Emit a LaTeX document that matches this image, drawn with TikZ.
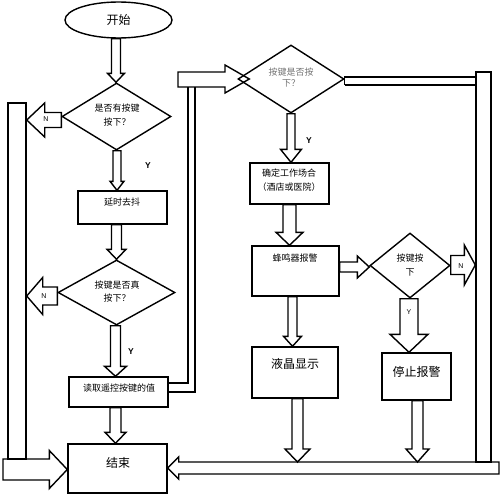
\documentclass[tikz,border=0pt]{standalone}
\usepackage{fontspec}
\setmainfont{Noto Sans CJK SC}
\newfontfamily\latf{Liberation Sans}
\usetikzlibrary{shapes.geometric,calc}
\tikzset{
 ln/.style={draw=black,line width=1.4pt,line join=miter},
 blk/.style={ln},
 boxn/.style={ln,rectangle,inner sep=0pt},
 dia/.style={ln,diamond,inner sep=0pt},
 txt/.style={inner sep=0pt,align=center,font=\fontsize{9}{14}\selectfont},
 big/.style={inner sep=0pt,font=\fontsize{12}{14}\selectfont},
 lab/.style={inner sep=0pt,font=\latf\bfseries\fontsize{8.5}{9}\selectfont},
 nlab/.style={inner sep=0pt,font=\latf\fontsize{7}{8}\selectfont},
}
% vertical block arrow: x, from, to, shaft half, head half, head length
\newcommand{\vblk}[6]{\draw[blk] ($(#1,0 |- #2)+(-#4,0)$) -- ($(#1,0 |- #3)+(-#4,-#6)$) -- ($(#1,0 |- #3)+(-#5,-#6)$) -- (#1,0 |- #3) -- ($(#1,0 |- #3)+(#5,-#6)$) -- ($(#1,0 |- #3)+(#4,-#6)$) -- ($(#1,0 |- #2)+(#4,0)$) -- cycle;}
% horizontal block arrow: y, from, to, shaft half, head half, head length (positive = pointing right)
\newcommand{\hblk}[6]{\draw[blk] ($(#2 |- 0,#1)+(0,-#4)$) -- ($(#3 |- 0,#1)+({-(#6)},-#4)$) -- ($(#3 |- 0,#1)+({-(#6)},-#5)$) -- (#3 |- 0,#1) -- ($(#3 |- 0,#1)+({-(#6)},#5)$) -- ($(#3 |- 0,#1)+({-(#6)},#4)$) -- ($(#2 |- 0,#1)+(0,#4)$) -- cycle;}
\begin{document}
\begin{tikzpicture}[x=1pt,y=-1pt]
\useasboundingbox (0,0) rectangle (500,495);
% nodes
\node[ln,ellipse,minimum width=107pt,minimum height=36pt,inner sep=0pt,font=\fontsize{12}{14}\selectfont] (start) at (118.5,20) {开始};
\node[dia,minimum width=109pt,minimum height=67pt] (d1) at (116.5,116.5) {};
\node[boxn,minimum width=89pt,minimum height=33pt] (b1) at (122.5,207.5) {};
\node[dia,minimum width=117pt,minimum height=65pt] (d2) at (116.5,292.5) {};
\node[boxn,minimum width=99pt,minimum height=30pt] (b2) at (118.5,392) {};
\node[boxn,minimum width=99pt,minimum height=49pt] (e) at (117.5,468.5) {};
\node[dia,minimum width=106pt,minimum height=68pt] (d3) at (291,79) {};
\node[boxn,minimum width=79pt,minimum height=41pt] (b3) at (289.5,183.5) {};
\node[boxn,minimum width=87pt,minimum height=50pt] (b4) at (295.5,271) {};
\node[dia,minimum width=80pt,minimum height=65pt] (d4) at (410,265.5) {};
\node[boxn,minimum width=86pt,minimum height=51pt] (b5) at (295,372.5) {};
\node[boxn,minimum width=69pt,minimum height=47pt] (b6) at (416.5,376.5) {};
\node[boxn,minimum width=18pt,minimum height=356pt] (lbar) at (17,281) {};
\node[boxn,minimum width=15pt,minimum height=390pt] (rbar) at (483.5,267) {};
\coordinate (bb) at (300,462);
\coordinate (rend) at (499,468);
\coordinate (lend) at (3,469.5);
% texts
\node[txt] (t1) at (117,115) {是否有按键\\按下？};
\node[txt] (t2) at (122,202) {延时去抖};
\node[txt,font=\fontsize{9}{13}\selectfont] (t3) at (117,291.5) {按键是否真\\按下？};
\node[txt] (t4) at (119,388) {读取遥控按键的值};
\node[big] (t5) at (118,463) {结束};
\node[txt,text=black!55,font=\fontsize{9}{11.6}\selectfont] (t6) at (291,77.5) {按键是否按\\下？};
\node[txt] (t7) at (289,180.5) {确定工作场合\\（酒店或医院）};
\node[txt] (t8) at (295,258) {蜂鸣器报警};
\node[txt] (t9) at (410,265) {按键按\\下};
\node[big] (t10) at (295,364) {液晶显示};
\node[big] (t11) at (416.5,372) {停止报警};
% labels
\node[lab] (y1) at (148,166) {Y};
\node[nlab] (n1) at (46,119) {N};
\node[nlab] (n2) at (44,296) {N};
\node[lab] (y2) at (131,352) {Y};
\node[lab] (y3) at (309,141) {Y};
\node[nlab] (y4) at (409,312) {Y};
\node[nlab] (n3) at (461,266) {N};
% vertical block arrows
\vblk{116}{start.south}{d1.north}{4.5}{8.5}{9}
\vblk{117}{d1.south}{b1.north}{4}{7}{9}
\vblk{116.5}{b1.south}{d2.north}{5}{9.5}{10}
\vblk{115.5}{d2.south}{b2.north}{5}{11}{10}
\vblk{115.5}{b2.south}{e.north}{5.5}{10.5}{11}
\vblk{291}{d3.south}{b3.north}{4}{10.5}{13}
\vblk{289.5}{b3.south}{b4.north}{6.5}{13.5}{13}
\vblk{292.5}{b4.south}{b5.north}{4.5}{9}{10}
\vblk{297.5}{b5.south}{bb}{5.5}{12.5}{13}
\vblk{409}{d4.south}{b6.north}{9}{19}{18}
\vblk{417.5}{b6.south}{bb}{5.5}{11.5}{13}
% horizontal block arrows
\hblk{120}{d1.west}{lbar.east}{7.5}{17}{-18}
\hblk{296}{d2.west}{lbar.east}{9}{18.5}{-16}
\hblk{267}{b4.east}{d4.west}{5}{11}{12}
\hblk{265}{d4.east}{rbar.west}{9.5}{20}{11}
\hblk{468}{rend}{e.east}{6}{11}{-11}
\hblk{469.5}{lend}{e.west}{10.5}{19}{18}
% bent arrow from b2 to d3
\draw[blk] (b2.east |- 0,383) -- (188,383) -- (188,87);
\draw[blk] (b2.east |- 0,392) -- (195,392) -- (195,87);
\draw[blk] (178,72) -- (225,72) -- (225,65) -- ($(d3.west)+(12,0)$) -- (225,93) -- (225,87) -- (178,87) -- cycle;
% thin connector d3 to right bar
\draw[blk] (d3.east |- 0,85) -- (d3.east |- 0,77) -- (rbar.west |- 0,77);
\draw[blk] (d3.east |- 0,85) -- (rbar.west |- 0,85);
\end{tikzpicture}
\end{document}
